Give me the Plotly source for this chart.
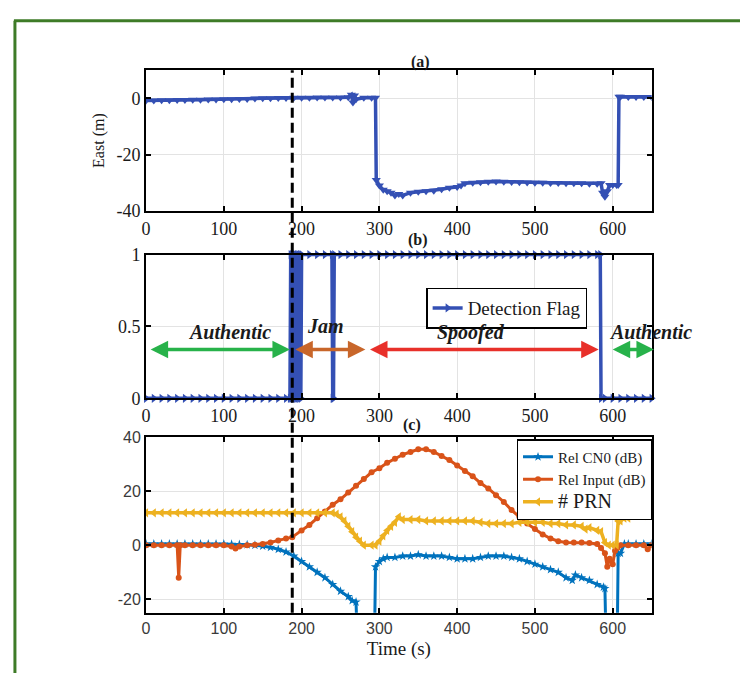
import plotly.graph_objects as go

W, H = 740, 683

# ---------------- data ----------------
# (a) East position (m)
t_east = [0, 10, 20, 30, 40, 50, 60, 70, 80, 90, 100, 110, 120, 130, 140, 150, 160, 170, 180, 190,
          200, 210, 220, 230, 240, 250, 260, 264, 266, 268, 270, 280, 290, 295, 296, 300, 305, 310,
          315, 320, 325, 330, 340, 350, 360, 370, 380, 390, 400, 405, 410, 420, 430, 440, 450, 460,
          470, 480, 490, 500, 510, 520, 530, 540, 550, 560, 570, 580, 585, 587, 590, 593, 596, 600,
          605, 607, 608, 610, 620, 630, 640, 650]
east = [-0.8, -0.8, -0.7, -0.7, -0.6, -0.6, -0.5, -0.5, -0.4, -0.4, -0.3, -0.3, -0.2, -0.2, -0.1, 0,
        0, 0.1, 0.1, 0.2, 0.2, 0.2, 0.3, 0.3, 0.3, 0.3, 0.4, 1.3, -1.5, 1.0, -0.3, 0.2, 0.2, 0.2,
        -29, -31, -32.5, -33, -33.5, -34.5, -34, -34.5, -33.5, -33.2, -33, -32.8, -32.3, -31.8,
        -31.5, -31, -30.2, -30, -29.8, -29.6, -29.5, -29.6, -29.7, -29.8, -29.9, -30, -30, -30.1,
        -30.1, -30.2, -30.2, -30.2, -30.3, -30.3, -30.2, -33.5, -35, -33, -30.8, -30.8, -30.8,
        -30.8, 0.6, 0.6, 0.5, 0.5, 0.5, 0.5]

# (b) Detection flag
t_flag = [0, 10, 20, 30, 40, 50, 60, 70, 80, 90, 100, 110, 120, 130, 140, 150, 160, 170, 180, 185,
          186, 187, 188, 189, 190, 191, 192, 193, 194, 195, 196, 197, 198, 199, 200, 210, 220, 230,
          239, 240, 241, 242, 250, 260, 270, 280, 290, 300, 310, 320, 330, 340, 350, 360, 370, 380,
          390, 400, 410, 420, 430, 440, 450, 460, 470, 480, 490, 500, 510, 520, 530, 540, 550, 560,
          570, 580, 584, 585, 590, 600, 610, 620, 630, 640, 650]
flag = [0, 0, 0, 0, 0, 0, 0, 0, 0, 0, 0, 0, 0, 0, 0, 0, 0, 0, 0, 0,
        1, 0, 1, 0, 1, 0, 1, 0, 1, 0, 1, 0, 1, 0, 1, 1, 1, 1,
        1, 0, 0, 1, 1, 1, 1, 1, 1, 1, 1, 1, 1, 1, 1, 1, 1, 1,
        1, 1, 1, 1, 1, 1, 1, 1, 1, 1, 1, 1, 1, 1, 1, 1, 1, 1,
        1, 1, 1, 0, 0, 0, 0, 0, 0, 0, 0]

# (c) relative C/N0, relative input power, number of PRNs
t_cn0 = [0, 10, 20, 30, 40, 50, 60, 70, 80, 90, 100, 110, 120, 130, 140, 150, 160, 170, 180, 190,
         200, 210, 220, 230, 240, 250, 260, 265, 270, 271, 294, 295, 300, 305, 310, 320, 330, 340,
         350, 360, 370, 380, 390, 400, 410, 420, 430, 440, 450, 460, 470, 480, 490, 500, 510, 520,
         530, 540, 548, 552, 560, 570, 580, 588, 590, 591, 606, 607, 610, 615, 620, 630, 640, 650]
cn0 = [0.5, 0.5, 0.5, 0.5, 0.5, 0.5, 0.5, 0.5, 0.5, 0.5, 0.5, 0.4, 0.3, 0.2, 0, -0.3, -0.8, -1.5,
       -2.5, -4, -6, -8, -10, -12, -14.5, -17, -19, -20.5, -21, -30, -30, -8, -6, -5, -4.5, -4.5,
       -4, -4, -3.5, -4, -4, -4, -4.5, -5, -5, -5, -4.5, -4, -4, -4, -4.5, -5, -6, -7, -8, -9, -10,
       -12, -13, -11, -12, -13, -14.5, -15.5, -16, -30, -30, -3, -3, 0.5, 0.5, 0.5, 0.5, 0.5]

t_inp = [0, 10, 20, 30, 40, 42, 44, 50, 60, 70, 80, 90, 100, 110, 115, 120, 130, 140, 150, 160,
         170, 180, 188, 200, 210, 220, 230, 240, 250, 260, 270, 280, 290, 300, 310, 320, 330, 340,
         350, 360, 370, 380, 390, 400, 410, 420, 430, 440, 450, 460, 470, 480, 490, 500, 510, 520,
         530, 540, 550, 560, 570, 580, 585, 590, 593, 596, 600, 603, 606, 610, 620, 630, 640, 645,
         650]
rel_input = [0, 0, 0, 0, 0, -12, 0, 0, 0, 0, 0, 0, 0, -0.5, -1.2, -0.5, 0, 0.2, 0.5, 1, 1.8, 2.5,
             3, 5.5, 7.5, 10, 12.5, 15, 17, 19.5, 22, 24.5, 27, 28.5, 30.5, 32, 33.5, 34.5, 35.5,
             35.5, 34.5, 33, 31.5, 29.5, 27.5, 25.5, 23, 21, 18.5, 16, 13, 10.5, 8, 6, 4, 2.5, 1.5,
             1, 1, 1, 0.8, 0.5, -1, -3, -8, -5, -7, -2, -1, 0, 0, 0, 0, -1.5, 0]

t_prn = [0, 10, 20, 30, 40, 50, 60, 70, 80, 90, 100, 110, 120, 130, 140, 150, 160, 170, 180, 190,
         200, 210, 220, 230, 240, 245, 250, 255, 260, 265, 270, 275, 280, 290, 295, 300, 305, 310,
         315, 320, 325, 330, 340, 350, 360, 370, 380, 390, 400, 410, 420, 430, 440, 450, 460, 470,
         480, 490, 500, 510, 520, 530, 540, 550, 560, 565, 570, 580, 585, 590, 595, 600, 605, 607,
         610, 615, 620, 630, 640, 650]
prn = [12, 12, 12, 12, 12, 12, 12, 12, 12, 12, 12, 12, 12, 12, 12, 12, 12, 12, 12, 12, 12, 12, 12,
       12, 12, 11.5, 10.5, 9, 7, 5, 3, 1.5, 0, 0, 0, 1.5, 3.5, 5.5, 7, 8.5, 10.5, 9.5, 9.5, 9.5, 9,
       9, 9, 9, 9, 9, 9, 8.5, 8, 8, 8, 8, 8.5, 8.5, 8.5, 8.5, 8, 8, 7.5, 7.5, 7, 6, 6.5, 5.5, 5, 1,
       0, 0, 0, 9, 9, 10, 10, 11, 11, 12]

x_ticks = [0, 100, 200, 300, 400, 500, 600]
ticks_a = [-40, -20, 0]
ticks_b = [0, 0.5, 1]
ticks_c = [-20, 0, 20, 40]
attack_start = 188

# phase arrows in panel (b): (label, start, end, colour, text x, text y)
phases = [("Authentic", 4, 185, "#27b24a", 107, 0.46),
          ("Jam", 190, 282, "#c8662a", 231, 0.50),
          ("Spoofed", 286, 582, "#e8302a", 418, 0.46),
          ("Authentic", 598, 653, "#27b24a", 593, 0.46)]


def tick_text(vals):
    return [("%g" % v) for v in vals]


# ---------------- layout helpers ----------------
def px_x(p):
    return p / W


def px_y(p):
    return 1 - p / H


X0, X1 = 142, 651
dom_x = [px_x(X0), px_x(X1)]
dom_a = [px_y(207), px_y(62)]
dom_b = [px_y(400), px_y(252)]
dom_c = [px_y(621), px_y(440)]

SERIF = "Liberation Serif"
SANS = "Liberation Sans"
BLUE = "#3450b4"

fig = go.Figure()

fig.add_trace(go.Scatter(x=t_east, y=east, mode="lines+markers", xaxis="x", yaxis="y",
                         line=dict(color=BLUE, width=3.5),
                         marker=dict(symbol="triangle-down", size=8, color=BLUE),
                         showlegend=False))

fig.add_trace(go.Scatter(x=t_flag, y=flag, mode="lines+markers", xaxis="x2", yaxis="y2",
                         line=dict(color=BLUE, width=3.5),
                         marker=dict(symbol="triangle-right", size=8, color=BLUE),
                         cliponaxis=False, name="Detection Flag", legend="legend2"))

fig.add_trace(go.Scatter(x=t_cn0, y=cn0, mode="lines+markers", xaxis="x3", yaxis="y3",
                         line=dict(color="#0072BD", width=3),
                         marker=dict(symbol="star", size=7, color="#0072BD"),
                         name="Rel CN0 (dB)", legend="legend3"))
fig.add_trace(go.Scatter(x=t_inp, y=rel_input, mode="lines+markers", xaxis="x3", yaxis="y3",
                         line=dict(color="#D95319", width=3),
                         marker=dict(symbol="circle", size=6, color="#D95319"),
                         name="Rel Input (dB)", legend="legend3"))
fig.add_trace(go.Scatter(x=t_prn, y=prn, mode="lines+markers", xaxis="x3", yaxis="y3",
                         line=dict(color="#EDB120", width=3.5),
                         marker=dict(symbol="triangle-left", size=8, color="#EDB120"),
                         name="<span style='font-size:20px'># PRN</span>", legend="legend3"))

axis_common = dict(range=[0, 650], tickvals=x_ticks, ticktext=tick_text(x_ticks),
                   ticks="inside", ticklen=5, tickwidth=1.5,
                   tickcolor="black", showline=True, linecolor="black", linewidth=2,
                   mirror="ticks", showgrid=True, gridcolor="#e3e3e3", gridwidth=1,
                   zeroline=False, domain=dom_x)
yaxis_common = dict(ticks="inside", ticklen=5, tickwidth=1.5, tickcolor="black", showline=True,
                    linecolor="black", linewidth=2, mirror="ticks", showgrid=True,
                    gridcolor="#e3e3e3", gridwidth=1, zeroline=False)

serif_ticks = dict(family=SERIF, size=18, color="#1a1a1a")
sans_ticks = dict(family=SANS, size=16, color="#3a3a3a")

fig.update_layout(
    width=W, height=H, autosize=False,
    margin=dict(l=0, r=0, t=0, b=0),
    paper_bgcolor="white", plot_bgcolor="white",
    xaxis=dict(**axis_common, anchor="y", tickfont=serif_ticks),
    yaxis=dict(**yaxis_common, range=[-40, 10], tickvals=ticks_a, ticktext=tick_text(ticks_a),
               domain=dom_a, anchor="x", tickfont=serif_ticks,
               title=dict(text="East (m)", font=dict(family=SERIF, size=16, color="#1a1a1a"),
                          standoff=8)),
    xaxis2=dict(**axis_common, anchor="y2", tickfont=serif_ticks),
    yaxis2=dict(**yaxis_common, range=[0, 1], tickvals=ticks_b, ticktext=tick_text(ticks_b),
                domain=dom_b, anchor="x2", tickfont=serif_ticks),
    xaxis3=dict(**axis_common, anchor="y3", tickfont=sans_ticks,
                title=dict(text="Time (s)", font=dict(family=SERIF, size=19, color="#1a1a1a"),
                           standoff=6)),
    yaxis3=dict(**yaxis_common, range=[-25, 40], tickvals=ticks_c, ticktext=tick_text(ticks_c),
                domain=dom_c, anchor="x3", tickfont=sans_ticks),
    legend2=dict(x=px_x(424), y=px_y(286), xanchor="left", yanchor="top",
                 bgcolor="white", bordercolor="black", borderwidth=1.5,
                 font=dict(family=SERIF, size=19, color="#1a1a1a"),
                 itemwidth=30, tracegroupgap=0),
    legend3=dict(x=px_x(515), y=px_y(442), xanchor="left", yanchor="top",
                 bgcolor="white", bordercolor="black", borderwidth=1.5,
                 font=dict(family=SERIF, size=15, color="#1a1a1a"),
                 itemwidth=30, tracegroupgap=0),
)

# panel titles
for txt, px, py in [("(a)", 418, 42), ("(b)", 416, 237), ("(c)", 410, 428)]:
    fig.add_annotation(text=f"<b>{txt}</b>", x=px_x(px), y=px_y(py),
                       xref="paper", yref="paper", showarrow=False,
                       font=dict(family=SERIF, size=16, color="#1a1a1a"))

# phase arrows and labels
for label, s, e, col, tx, ty in phases:
    fig.add_annotation(x=e, y=0.34, ax=s, ay=0.34, xref="x2", yref="y2", axref="x2", ayref="y2",
                       text="", showarrow=True, arrowhead=2, arrowside="end+start",
                       arrowsize=1.0, arrowwidth=3.5, arrowcolor=col)
    is_edge = label == "Authentic" and tx > 500
    fig.add_annotation(x=tx, y=ty, xref="x2", yref="y2",
                       xanchor="left" if is_edge else "center",
                       text=f"<b><i>{label}</i></b>", showarrow=False,
                       font=dict(family=SERIF, size=20, color="#1a1a1a"))

# dashed attack-start line across all panels
fig.add_shape(type="line", xref="x3", yref="paper", x0=attack_start, x1=attack_start,
              y0=px_y(621), y1=px_y(62), layer="above",
              line=dict(color="black", width=3, dash="10px,5px"))

# green frame (top and left edges)
fig.add_shape(type="line", xref="paper", yref="paper", x0=px_x(9), x1=1.0, y0=px_y(11),
              y1=px_y(11), line=dict(color="#3e7b27", width=3))
fig.add_shape(type="line", xref="paper", yref="paper", x0=px_x(10), x1=px_x(10), y0=px_y(11),
              y1=0.0, line=dict(color="#3e7b27", width=3))

fig.write_html("out.html", config={"displayModeBar": False},
               post_script="document.body.style.margin='0';document.body.style.overflow='hidden';")
